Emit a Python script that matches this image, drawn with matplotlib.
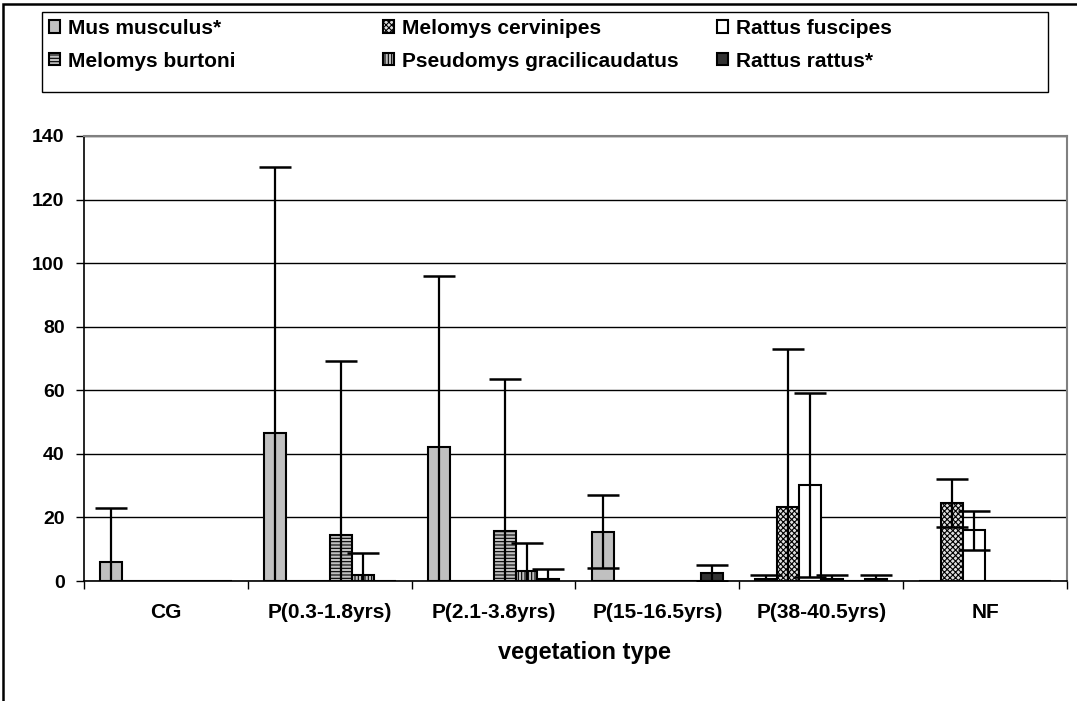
import numpy as np
import matplotlib
matplotlib.use("Agg")
from matplotlib import pyplot as plt
from matplotlib.patches import Rectangle

plt.rcParams['font.family'] = ['Liberation Sans', 'DejaVu Sans']
plt.rcParams['font.weight'] = 'bold'
plt.rcParams['hatch.linewidth'] = 0.8

categories = ["CG", "P(0.3-1.8yrs)", "P(2.1-3.8yrs)", "P(15-16.5yrs)",
              "P(38-40.5yrs)", "NF"]

species = ["Mus musculus*", "Melomys cervinipes", "Rattus fuscipes",
           "Melomys burtoni", "Pseudomys gracilicaudatus", "Rattus rattus*"]

mus_musculus = [6.0, 46.5, 42.2, 15.5, 0.6, 0.0]
mus_musculus_err = [17.0, 83.7, 53.8, 11.5, 1.2, 0.0]
melomys_cervinipes = [0.0, 0.0, 0.0, 0.0, 23.2, 24.6]
melomys_cervinipes_err = [0.0, 0.0, 0.0, 0.0, 49.7, 7.5]
rattus_fuscipes = [0.0, 0.0, 0.0, 0.0, 30.1, 15.9]
rattus_fuscipes_err = [0.0, 0.0, 0.0, 0.0, 28.9, 6.0]
melomys_burtoni = [0.0, 14.5, 15.8, 0.0, 0.6, 0.0]
melomys_burtoni_err = [0.0, 54.7, 47.7, 0.0, 1.2, 0.0]
pseudomys = [0.0, 1.8, 3.1, 0.0, 0.0, 0.0]
pseudomys_err = [0.0, 6.9, 8.9, 0.0, 0.0, 0.0]
rattus_rattus = [0.0, 0.0, 0.7, 2.4, 0.6, 0.0]
rattus_rattus_err = [0.0, 0.0, 3.1, 2.5, 1.2, 0.0]

values = [mus_musculus, melomys_cervinipes, rattus_fuscipes,
          melomys_burtoni, pseudomys, rattus_rattus]
errors = [mus_musculus_err, melomys_cervinipes_err, rattus_fuscipes_err,
          melomys_burtoni_err, pseudomys_err, rattus_rattus_err]

# fill / hatch for each species
faces = ['#c0c0c0', '#e0e0e0', '#ffffff', '#c0c0c0', '#c0c0c0', '#333333']
hatches = [None, 'xxxxxx', None, '-----', '|||||', None]

fig = plt.figure(figsize=(10.77, 7.01), dpi=100)
ax = fig.add_axes([84 / 1077, 1 - 581 / 701, 983 / 1077, 445 / 701])

x = np.arange(len(categories))
width = 0.134
handles = []
for k, (vals, errs) in enumerate(zip(values, errors)):
    pos = x + (k - 2.5) * width
    bars = ax.bar(pos, vals, width, color=faces[k], edgecolor='black',
                  linewidth=1.5, hatch=hatches[k], label=species[k], zorder=3)
    handles.append(bars)
    vals = np.array(vals)
    errs = np.array(errs)
    m = errs > 0
    ax.errorbar(pos[m], vals[m], yerr=errs[m], fmt='none', ecolor='black',
                elinewidth=1.6, capsize=11.5, capthick=1.8, zorder=4)

ax.set_xlim(-0.5, 5.5)
ax.set_ylim(0, 140)
ax.set_yticks(np.arange(0, 141, 20))
ax.yaxis.grid(True, color='black', linewidth=1.0, zorder=0)
ax.set_axisbelow(True)

ax.set_xticks(x)
ax.set_xticklabels(categories, fontsize=15, fontweight='bold')
ax.set_xticks(np.arange(-0.5, 6, 1), minor=True)
ax.tick_params(axis='x', which='major', length=0, pad=16)
ax.tick_params(axis='x', which='minor', length=6, width=1, direction='out')
ax.tick_params(axis='y', length=6, width=1, direction='out', labelsize=14, pad=8)
for lab in ax.get_yticklabels():
    lab.set_fontweight('bold')

for side in ['top', 'right']:
    ax.spines[side].set_color('#808080')
    ax.spines[side].set_linewidth(1.5)
for side in ['left', 'bottom']:
    ax.spines[side].set_color('black')
    ax.spines[side].set_linewidth(1.2)

ax.set_xlabel("vegetation type", fontsize=17, fontweight='bold')
ax.xaxis.set_label_coords((585 - 84) / 983, (581 - 641) / 445)

# legend: three columns of two, equal column widths, one frame
col_x = [49, 383, 717]
for c in range(3):
    fig.legend([handles[c], handles[c + 3]], [species[c], species[c + 3]],
               loc='upper left', bbox_to_anchor=(col_x[c] / 1077, 1 - 19 / 701),
               frameon=False, handlelength=0.55, handleheight=0.55,
               handletextpad=0.35, labelspacing=0.65, borderpad=0,
               borderaxespad=0, prop={'weight': 'bold', 'size': 15})
fig.patches.append(Rectangle((42 / 1077, 1 - 92 / 701), 1006 / 1077, 80 / 701,
                             transform=fig.transFigure, fill=False,
                             edgecolor='black', linewidth=1.0))

# outer chart border
fig.patches.append(Rectangle((3 / 1077, -0.1), 1.2, 1.1 - 4 / 701,
                             transform=fig.transFigure, fill=False,
                             edgecolor='black', linewidth=1.8))

fig.savefig("out.png", dpi=100)
